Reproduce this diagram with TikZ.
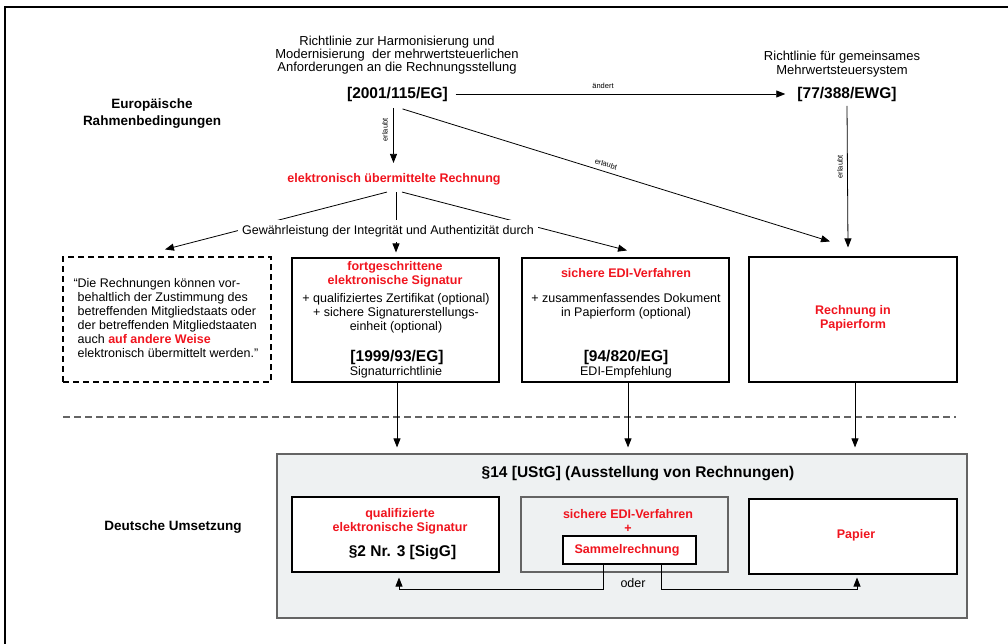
\documentclass[tikz,border=0pt]{standalone}
\usepackage{fontspec}
\setmainfont{Liberation Sans}
\usetikzlibrary{arrows.meta}
\definecolor{myred}{RGB}{240,20,30}
\definecolor{boxgray}{RGB}{238,241,242}
\definecolor{edgegray}{RGB}{100,100,100}
\tikzset{
  norm/.style={font=\fontsize{12.5}{14}\selectfont, align=center, inner sep=0pt},
  toptxt/.style={font=\fontsize{13}{13.3}\selectfont, align=center, inner sep=0pt},
  rb/.style={font=\bfseries\fontsize{12.5}{14}\selectfont, text=myred, align=center, inner sep=0pt},
  hd/.style={font=\bfseries\fontsize{13.5}{17}\selectfont, align=center, inner sep=0pt},
  big/.style={font=\bfseries\fontsize{15.5}{17}\selectfont, inner sep=0pt},
  tinylbl/.style={font=\fontsize{7.5}{8}\selectfont, inner sep=1pt},
  box/.style={draw, line width=1.1pt, inner sep=0pt},
  dbox/.style={draw, line width=1.1pt, dash pattern=on 6pt off 4pt, inner sep=0pt},
  gbox/.style={draw=edgegray, line width=1.2pt, fill=boxgray, inner sep=0pt},
  arr/.style={-{Triangle[length=9pt,width=7pt]}, line width=0.8pt},
}
\begin{document}
\begin{tikzpicture}[x=1pt,y=-1pt]
\useasboundingbox (0,0) rectangle (1008,644);
% frame
\draw[line width=1.5pt] (5,644) -- (5,7) -- (1008,7);

% headings
\node[hd] (eur) at (152,114) {Europäische\\Rahmenbedingungen};
\node[hd] (deu) at (173,527) {Deutsche Umsetzung};

% top texts
\node[toptxt] (t1) at (397,55) {Richtlinie zur Harmonisierung und\\Modernisierung\ \ der mehrwertsteuerlichen\\Anforderungen an die Rechnungsstellung};
\node[big] (eg) at (397.5,94) {[2001/115/EG]};
\node[toptxt] (t2) at (842,64) {Richtlinie für gemeinsames\\Mehrwertsteuersystem};
\node[big] (ewg) at (847,94) {[77/388/EWG]};

% boxes
\node[dbox, minimum width=208pt, minimum height=125pt] (dq) at (167,319.5) {};
\node[box, minimum width=207pt, minimum height=124pt] (fs) at (395.5,320) {};
\node[box, minimum width=207pt, minimum height=124pt] (edi) at (625.5,320) {};
\node[box, minimum width=208pt, minimum height=125pt] (pap) at (853,319.5) {};

% dashed box text
\node[norm, align=left] (quote) at (168,318) {\llap{“}Die Rechnungen können vor-\\behaltlich der Zustimmung des\\betreffenden Mitgliedstaats oder\\der betreffenden Mitgliedstaaten\\auch \textcolor{myred}{\textbf{auf andere Weise}}\\elektronisch übermittelt werden."};

% fs box text
\node[rb] (fst) at (395,274) {fortgeschrittene\\elektronische Signatur};
\node[norm] (fsd) at (396,313) {+ qualifiziertes Zertifikat (optional)\\+ sichere Signaturerstellungs-\\einheit (optional)};
\node[big] (fsn) at (397,357) {[1999/93/EG]};
\node[norm] (fsr) at (396,372) {Signaturrichtlinie};

% edi box text
\node[rb] (edit) at (626,273) {sichere EDI-Verfahren};
\node[norm] (edid) at (626,306) {+ zusammenfassendes Dokument\\in Papierform (optional)};
\node[big] (edin) at (626,357) {[94/820/EG]};
\node[norm] (edir) at (626,372) {EDI-Empfehlung};

% paper box text
\node[rb] (papt) at (853,318) {Rechnung in\\Papierform};

% top arrows
\draw[arr] ([xshift=7.5pt]eg.east) -- ([xshift=-12pt]eg.east -| ewg.west);
\node[tinylbl] (aend) at (603,86) {ändert};
\draw[arr] ([xshift=-4pt,yshift=-6.5pt]eg.south) -- ++(0,55);
\node[tinylbl, rotate=90] (erl1) at (385,130) {erlaubt};
\draw[arr] ([xshift=5pt,yshift=-7.5pt]eg.south) -- ([xshift=-23pt,yshift=15pt]pap.north);
\node[tinylbl, rotate=-17.3] (erl2) at (606,164) {erlaubt};
\draw[arr] ([yshift=-4.5pt]ewg.south) -- ([xshift=-5pt,yshift=9pt]pap.north);
\node[tinylbl, rotate=90] (erl3) at (840,167) {erlaubt};

% elektronisch node and branches
\node[rb] (elek) at (394,179) {elektronisch übermittelte Rechnung};
\draw[arr] ([xshift=-7pt,yshift=-7pt]elek.south) -- ([xshift=-2pt,yshift=7pt]dq.north);
\draw[arr] ([xshift=2pt,yshift=-7pt]elek.south) -- ([xshift=0.5pt,yshift=5pt]fs.north);
\draw[arr] ([xshift=8pt,yshift=-7pt]elek.south) -- ([xshift=1.5pt,yshift=7pt]edi.north);
\node[norm, fill=white, inner xsep=4pt, inner ysep=5pt] (gew) at (388,231) {Gewährleistung der Integrität und Authentizität durch};

% separator
\draw[edgegray, line width=1.2pt, dash pattern=on 7pt off 4pt] (63,417) coordinate (sepL) -- (956,417) coordinate (sepR);

% German part
\node[gbox, minimum width=690pt, minimum height=164pt] (ustg) at (622,536) {};
\node[big] (ustgt) at (638,474) {§14 [UStG] (Ausstellung von Rechnungen)};

\draw[arr] ([xshift=1.5pt]fs.south) -- ([xshift=1.5pt,yshift=6pt]fs.south |- ustg.north);
\draw[arr] ([xshift=2.5pt]edi.south) -- ([xshift=2.5pt,yshift=6pt]edi.south |- ustg.north);
\draw[arr] ([xshift=2pt]pap.south) -- ([xshift=2pt,yshift=6pt]pap.south |- ustg.north);

\node[box, fill=white, minimum width=207pt, minimum height=75pt] (qual) at (395.5,534.5) {};
\node[rb] (qualt) at (400,521) {qualifizierte\\elektronische Signatur};
\node[big] (qualn) at (402.5,553) {§2 Nr. 3 [SigG]};

\node[box, draw=edgegray, minimum width=207pt, minimum height=75pt] (edi2) at (624.5,534.5) {};
\node[rb] (edi2t) at (628,521) {sichere EDI-Verfahren\\+};
\node[box, fill=white, minimum width=133pt, minimum height=28pt] (sammel) at (629.5,550) {};
\node[rb] (sammelt) at (627,550) {Sammelrechnung};

\node[box, fill=white, minimum width=208pt, minimum height=75pt] (pap2) at (853,536.5) {};
\node[rb] (pap2t) at (856,535) {Papier};

\coordinate (o1) at (603,589);
\coordinate (o2) at (399,589);
\coordinate (o3) at (661,589);
\coordinate (o4) at (857,589);
\draw[arr] (sammel.south -| o1) -- (o1) -- (o2) -- ([yshift=-5pt]qual.south -| o2);
\draw[arr] (sammel.south -| o3) -- (o3) -- (o4) -- ([yshift=-3pt]pap2.south -| o4);
\node[norm] (oder) at (633,583) {oder};
\end{tikzpicture}
\end{document}
